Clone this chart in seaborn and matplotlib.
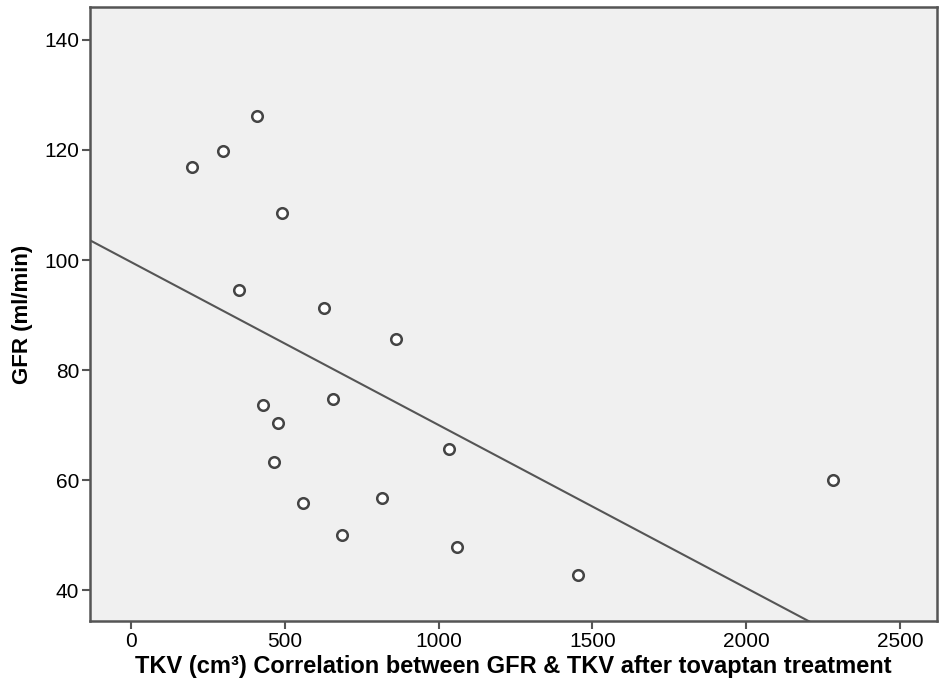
import matplotlib
matplotlib.use("Agg")
import matplotlib.pyplot as plt
import seaborn as sns
import pandas as pd

# TKV (cm3) and GFR (ml/min)
tkv = [198, 299, 410, 491, 351, 628, 862, 429, 657, 478,
       465, 1034, 559, 816, 686, 1060, 1454, 2283]
gfr = [116.9, 119.8, 126.1, 108.6, 94.5, 91.2, 85.6, 73.7, 74.8, 70.3,
       63.2, 65.6, 55.8, 56.7, 50.0, 47.9, 42.8, 60.0]

x_ticks = [0, 500, 1000, 1500, 2000, 2500]
y_ticks = [40, 60, 80, 100, 120, 140]

df = pd.DataFrame({"TKV": tkv, "GFR": gfr})

sns.set_style("white")
plt.rcParams["font.family"] = ["Liberation Sans", "DejaVu Sans"]

fig = plt.figure(figsize=(9.39, 6.93), dpi=100)
ax = fig.add_axes([0.096, 0.104, 0.902, 0.886])
ax.set_facecolor("#f0f0f0")

# xlim first so the fit line runs to the frame edges
ax.set_xlim(-133, 2621)
ax.set_ylim(34.4, 146)

sns.regplot(
    data=df, x="TKV", y="GFR", ax=ax,
    ci=None, truncate=False,
    scatter_kws=dict(s=58, facecolor="white", edgecolor="#444444", linewidths=1.8, alpha=1, zorder=3),
    line_kws=dict(color="#555555", linewidth=1.5, zorder=2),
)
ax.set_xlim(-133, 2621)
ax.set_ylim(34.4, 146)

ax.set_xticks(x_ticks)
ax.set_yticks(y_ticks)
ax.tick_params(axis="both", direction="out", length=6, width=1.5, color="#555555",
               labelsize=15, labelcolor="black", pad=2, bottom=True, left=True)

for side in ["left", "bottom", "top", "right"]:
    ax.spines[side].set_visible(True)
    ax.spines[side].set_color("#555555")
    ax.spines[side].set_linewidth(1.8)

ax.set_xlabel("TKV (cm³) Correlation between GFR & TKV after tovaptan treatment",
              fontsize=17, fontweight="bold", color="black", labelpad=3)
ax.set_ylabel("GFR (ml/min)", fontsize=16, fontweight="bold", color="black", labelpad=8)

fig.savefig("out.png", dpi=100, facecolor="white")
